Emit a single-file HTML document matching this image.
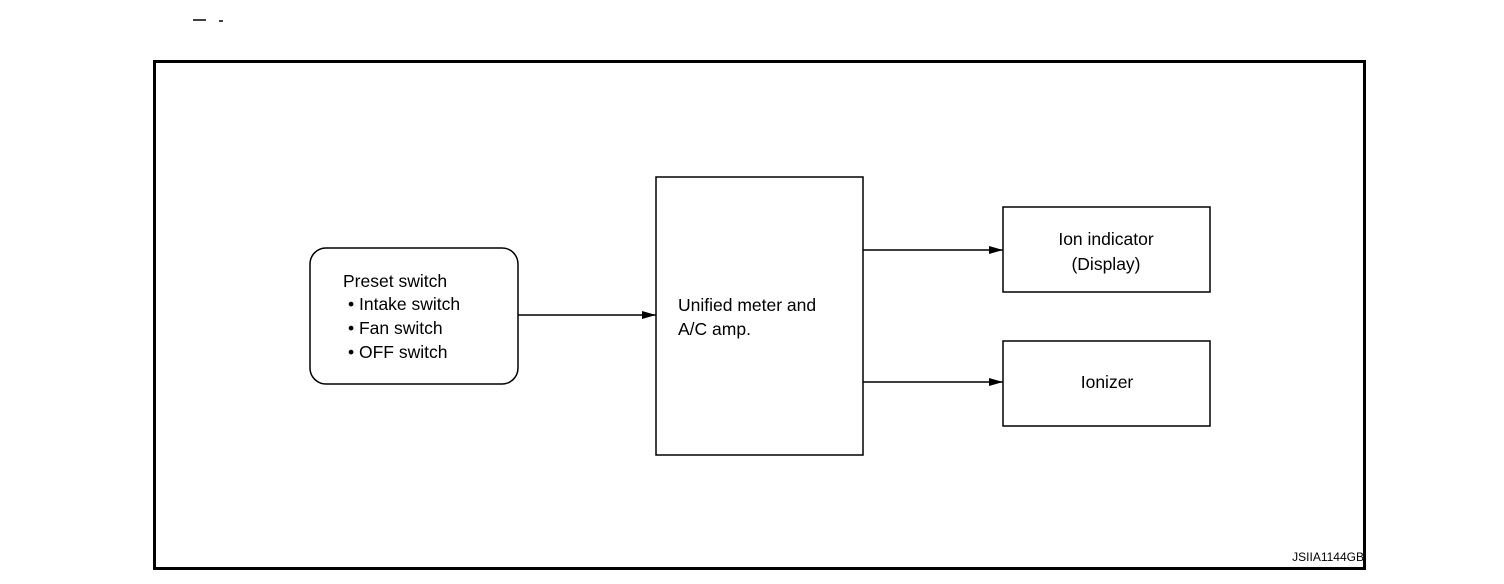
<!DOCTYPE html>
<html><head><meta charset="utf-8"><style>
html,body{margin:0;padding:0;background:#fff;}
svg{display:block;}
text{font-family:"Liberation Sans",Arial,sans-serif;font-size:17.5px;fill:#000;}
</style></head><body>
<svg width="1504" height="584" viewBox="0 0 1504 584" xmlns="http://www.w3.org/2000/svg">
<defs><marker id="a" markerWidth="14" markerHeight="8" refX="14" refY="4" orient="auto" markerUnits="userSpaceOnUse"><path d="M0,0 L14,4 L0,8 z" fill="#000"/></marker></defs>
<line x1="193" y1="20" x2="206" y2="20" stroke="#000" stroke-width="1.5"/>
<line x1="219" y1="21" x2="223" y2="21" stroke="#000" stroke-width="1.5"/>
<rect x="154.5" y="61.5" width="1210" height="507" fill="none" stroke="#000" stroke-width="3"/>
<rect x="310" y="248" width="208" height="136" rx="16" fill="none" stroke="#000" stroke-width="1.5"/>
<text x="343" y="287">Preset switch</text>
<text x="348" y="310">• Intake switch</text>
<text x="348" y="334">• Fan switch</text>
<text x="348" y="358">• OFF switch</text>
<rect x="656" y="177" width="207" height="278" fill="none" stroke="#000" stroke-width="1.5"/>
<text x="678" y="311">Unified meter and</text>
<text x="678" y="335">A/C amp.</text>
<rect x="1003" y="207" width="207" height="85" fill="none" stroke="#000" stroke-width="1.5"/>
<text x="1106" y="245" text-anchor="middle">Ion indicator</text>
<text x="1106" y="270" text-anchor="middle">(Display)</text>
<rect x="1003" y="341" width="207" height="85" fill="none" stroke="#000" stroke-width="1.5"/>
<text x="1107" y="388" text-anchor="middle">Ionizer</text>
<line x1="518" y1="315" x2="656" y2="315" stroke="#000" stroke-width="1.5" marker-end="url(#a)"/>
<line x1="863" y1="250" x2="1003" y2="250" stroke="#000" stroke-width="1.5" marker-end="url(#a)"/>
<line x1="863" y1="382" x2="1003" y2="382" stroke="#000" stroke-width="1.5" marker-end="url(#a)"/>
<text x="1364" y="561" text-anchor="end" style="font-size:12px">JSIIA1144GB</text>
</svg>
</body></html>
